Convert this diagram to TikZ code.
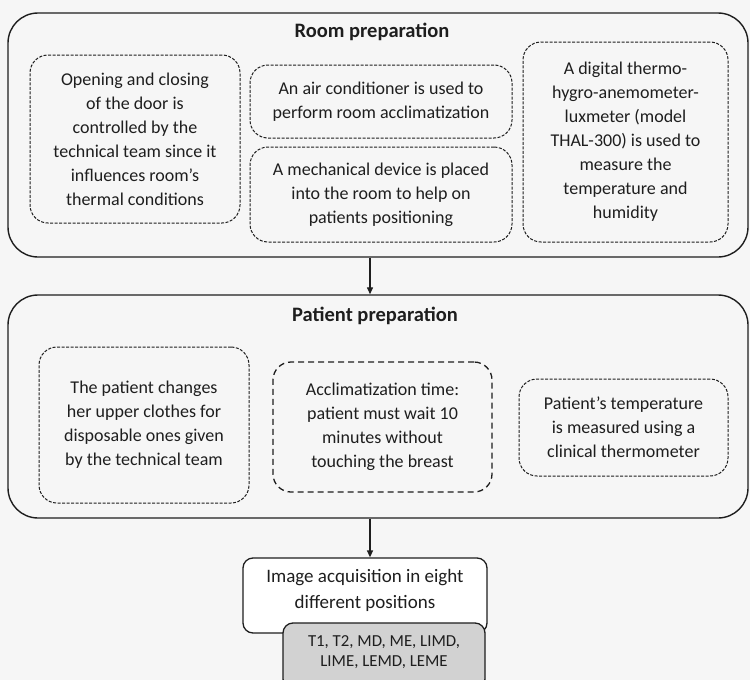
\documentclass[tikz,border=0pt]{standalone}
\usepackage{fontspec}
\setmainfont{Carlito}
\usetikzlibrary{arrows.meta}
\definecolor{bg}{HTML}{F6F6F6}
\definecolor{ink}{HTML}{1E1E1E}
\definecolor{graybox}{HTML}{D2D2D2}
\begin{document}
\begin{tikzpicture}[x=1pt,y=-1pt,
  outerbox/.style={draw=ink, line width=1.4pt, rounded corners=30pt, fill=bg, inner sep=0pt},
  dbox/.style={draw=ink, line width=1pt, dash pattern=on 3pt off 1.5pt, rounded corners=18pt, inner sep=0pt, align=center, text=ink, font=\fontsize{18}{24}\selectfont},
  coarsebox/.style={dbox, line width=1.3pt, dash pattern=on 6pt off 4pt},
  titletxt/.style={font=\bfseries\fontsize{20.5}{24}\selectfont, text=ink, inner sep=0pt},
  imgbox/.style={draw=ink, line width=1.3pt, rounded corners=10pt, fill=white, inner sep=0pt, align=center, text=ink, font=\fontsize{19}{26}\selectfont},
  posbox/.style={draw=ink, line width=1.3pt, rounded corners=10pt, fill=graybox, inner sep=0pt, align=center, text=ink, font=\fontsize{16.8}{20}\selectfont},
  arr/.style={draw=ink, line width=1.3pt, -{Triangle[length=7pt,width=6pt]}}]
\useasboundingbox (0,0) rectangle (750,680);
\fill[bg] (0,0) rectangle (750,680);
% Room preparation
\node[outerbox, minimum width=740pt, minimum height=244pt] (room) at (378,135) {};
\node[titletxt] (roomtitle) at (372,32) {Room preparation};
\node[dbox, minimum width=210pt, minimum height=168pt] (door) at (135,139)
  {Opening and closing\\of the door is\\controlled by the\\technical team since it\\influences room’s\\thermal conditions};
\node[dbox, minimum width=262pt, minimum height=73pt] (air) at (381,101.5)
  {An air conditioner is used to\\perform room acclimatization};
\node[dbox, minimum width=262pt, minimum height=95pt] (mech) at (381,194.5)
  {A mechanical device is placed\\into the room to help on\\patients positioning};
\node[dbox, minimum width=205pt, minimum height=200pt] (thal) at (625.5,142)
  {A digital thermo-\\hygro-anemometer-\\luxmeter (model\\THAL-300) is used to\\measure the\\temperature and\\humidity};
% Patient preparation
\node[outerbox, minimum width=740pt, minimum height=223pt] (patient) at (378,406.5) {};
\node[titletxt] (pattitle) at (375,316) {Patient preparation};
\node[dbox, minimum width=210pt, minimum height=156pt] (clothes) at (144,425)
  {The patient changes\\her upper clothes for\\disposable ones given\\by the technical team};
\node[coarsebox, minimum width=219pt, minimum height=130pt] (accl) at (382.5,427)
  {Acclimatization time:\\patient must wait 10\\minutes without\\touching the breast};
\node[dbox, minimum width=209pt, minimum height=97pt] (therm) at (623.5,427.5)
  {Patient’s temperature\\is measured using a\\clinical thermometer};
% Image acquisition
\node[imgbox, minimum width=244pt, minimum height=75pt, text depth=14pt] (img) at (365,595.5)
  {Image acquisition in eight\\different positions};
\node[posbox, minimum width=202pt, minimum height=66pt, text depth=10pt] (pos) at (384,656)
  {T1, T2, MD, ME, LIMD,\\LIME, LEMD, LEME};
% connectors
\coordinate (ax) at (370,0);
\draw[arr] (room.south -| ax) -- (patient.north -| ax);
\draw[arr] (patient.south -| ax) -- (img.north -| ax);
\end{tikzpicture}
\end{document}
